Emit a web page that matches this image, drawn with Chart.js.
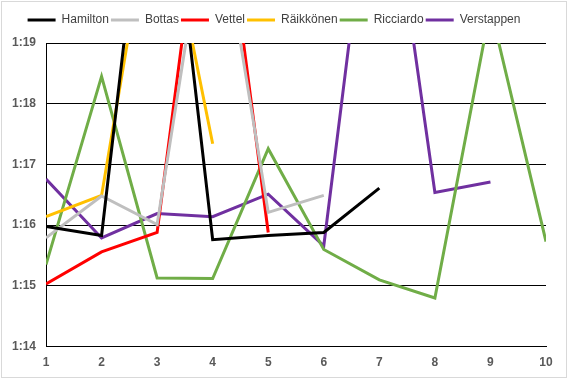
<!DOCTYPE html>
<html>
<head>
<meta charset="utf-8">
<script src="https://cdn.jsdelivr.net/npm/chart.js@4/dist/chart.umd.min.js"></script>
<style>
  html, body { margin: 0; padding: 0; background: #fff; }
</style>
</head>
<body>
<canvas id="lapChart" width="568" height="379"></canvas>
<script>
// Lap numbers
const laps = ["1", "2", "3", "4", "5", "6", "7", "8", "9", "10"];

// Lap times in seconds (75 = 1:15)
const hamilton = [75.98, 75.83, 83.7, 75.76, 75.83, 75.88, 76.61, null, null, null];
const bottas = [75.79, 76.48, 76.01, 81.8, 76.21, 76.49, null, null, null, null];
const vettel = [75.03, 75.56, 75.88, 82.9, 75.88, null, null, null, null, null];
const raikkonen = [76.14, 76.49, 81.9, 77.34, null, null, null, null, null, null];
const ricciardo = [75.35, 78.45, 75.13, 75.12, 77.26, 75.6, 75.1, 74.8, 79.58, 75.73];
const verstappen = [76.76, 75.79, 76.19, 76.14, 76.51, 75.66, 83.0, 76.54, 76.71, null];

const drivers = ["Hamilton", "Bottas", "Vettel", "Räikkönen", "Ricciardo", "Verstappen"];
const driverTimes = [hamilton, bottas, vettel, raikkonen, ricciardo, verstappen];
const driverColors = ["#000000", "#bfbfbf", "#ff0000", "#ffc000", "#70ad47", "#7030a0"];

// light grey frame round the chart, like the spreadsheet chart area
const frame = {
  id: "frame",
  afterDraw(chart) {
    const c = chart.ctx;
    c.save();
    c.strokeStyle = "#d9d9d9";
    c.lineWidth = 1;
    c.strokeRect(1.5, 1.5, chart.width - 3, chart.height - 3);
    c.restore();
  }
};

// extra room under the legend
const legendGap = {
  id: "legendGap",
  beforeInit(chart) {
    const fit = chart.legend.fit;
    chart.legend.fit = function () {
      fit.call(this);
      this.height += 7;
    };
  }
};

const chartCanvas = document.getElementById("lapChart").getContext("2d");

new Chart(chartCanvas, {
  type: "line",
  data: {
    labels: laps,
    datasets: drivers.map((name, i) => ({
      label: name,
      data: driverTimes[i],
      borderColor: driverColors[i],
      backgroundColor: driverColors[i],
      borderWidth: 3,
      pointRadius: 0,
      tension: 0,
      spanGaps: false,
      clip: 0,
    })),
  },
  options: {
    responsive: false,
    animation: false,
    devicePixelRatio: 1,
    layout: { padding: { top: 12, left: 2, right: 22, bottom: 0 } },
    plugins: {
      legend: {
        position: "top",
        labels: {
          usePointStyle: true,
          pointStyle: "line",
          pointStyleWidth: 28,
          padding: 2,
          color: "#404040",
          font: { family: "Liberation Sans", size: 12 },
        },
      },
      tooltip: { enabled: false },
    },
    scales: {
      x: {
        offset: false,
        grid: { display: false, drawTicks: false },
        border: { display: true, color: "#000000", width: 1 },
        ticks: {
          padding: 9,
          color: "#595959",
          maxRotation: 0,
          font: { family: "Liberation Sans", size: 12, weight: "bold" },
        },
      },
      y: {
        min: 74,
        max: 79,
        grid: { color: "#000000", lineWidth: 1, drawTicks: false },
        border: { display: true, color: "#000000", width: 1 },
        ticks: {
          stepSize: 1,
          padding: 10,
          color: "#595959",
          font: { family: "Liberation Sans", size: 12, weight: "bold" },
          callback: (v) => "1:" + (v - 60),
        },
      },
    },
  },
  plugins: [frame, legendGap],
});
</script>
</body>
</html>
